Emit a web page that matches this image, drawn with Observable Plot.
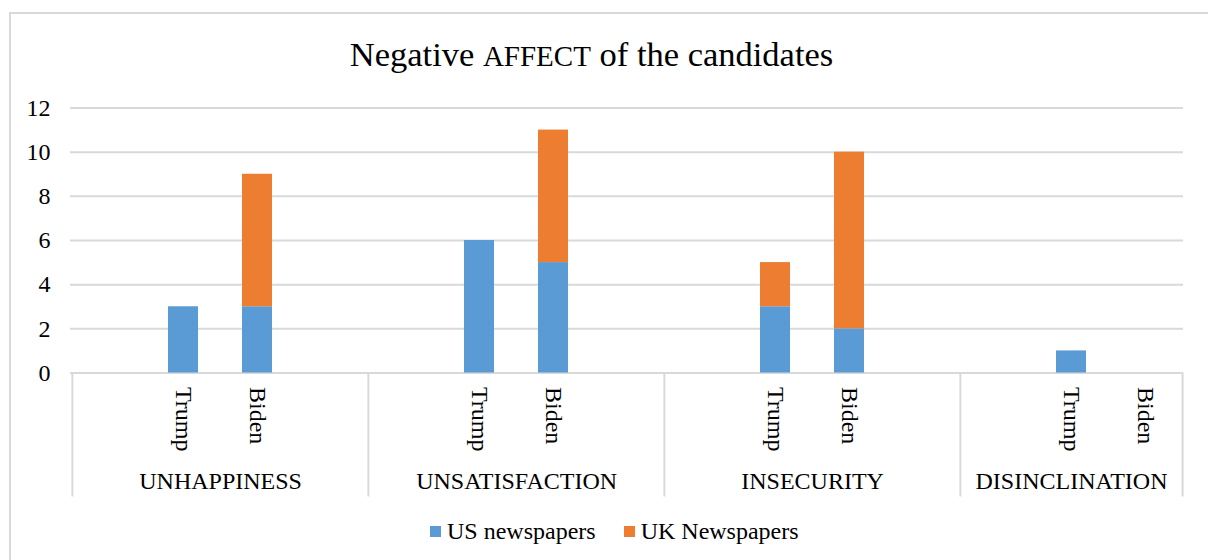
<!DOCTYPE html>
<html>
<head>
<meta charset="utf-8">
<script src="https://cdn.jsdelivr.net/npm/d3@7"></script>
<script src="https://cdn.jsdelivr.net/npm/@observablehq/plot@0.6"></script>
<style>
  body { margin: 0; background: #fff; }
  #wrap { position: relative; width: 1208px; height: 560px; overflow: hidden;
          font-family: 'Liberation Serif', 'Times New Roman', serif; color: #000; }
  #frame { position: absolute; left: 9px; top: 12px; width: 1400px; height: 800px;
           border-top: 2px solid #d9d9d9; border-left: 2px solid #d9d9d9; }
  #title { position: absolute; left: 0; width: 1183px; top: 37px; text-align: center;
           font-size: 34.5px; line-height: 35px; white-space: nowrap; }
  #title .sc { font-size: 29px; }
  #chart { position: absolute; left: 0; top: 0; }
  #chart svg, #chart svg text { font-family: 'Liberation Serif', 'Times New Roman', serif !important;
           font-variant: normal !important; }
  #legend { position: absolute; left: 430px; top: 519px; display: flex; align-items: center;
            font-size: 24px; line-height: 24px; white-space: nowrap; }
  #legend .item { display: flex; align-items: center; margin-right: 28px; }
  #legend .sw { display: inline-block; width: 11px; height: 11px; margin-right: 6px; }
</style>
</head>
<body>
<div id="wrap">
  <div id="frame"></div>
  <div id="chart"></div>
  <div id="title">Negative <span class="sc">AFFECT</span> of the candidates</div>
  <div id="legend"></div>
</div>
<script>
// ---- data ----
const groups = ["UNHAPPINESS", "UNSATISFACTION", "INSECURITY", "DISINCLINATION"];
const candidates = ["Trump", "Biden"];
const seriesNames = ["US newspapers", "UK Newspapers"];
// values in order: group1 Trump, group1 Biden, group2 Trump, ...
const usValues = [3, 3, 6, 5, 3, 2, 1, 0];
const ukValues = [0, 6, 0, 6, 2, 8, 0, 0];
const yTicks = [0, 2, 4, 6, 8, 10, 12];
const seriesColors = ["#5B9BD5", "#ED7D31"];

// ---- layout ----
const W = 1208, H = 560, mL = 70, mR = 25, mT = 107.5, mB = 187.5;
const FS = 24;

// category slots (Excel leaves an empty slot around each pair)
const slots = [];
groups.forEach((g, gi) => {
  slots.push(g + "|lead");
  candidates.forEach(c => slots.push(g + "|" + c));
  if (gi < groups.length - 1) slots.push(g + "|trail");
});
const step = (W - mL - mR) / slots.length;

const rows = [];
groups.forEach((g, gi) => candidates.forEach((c, ci) => {
  const k = gi * candidates.length + ci;
  rows.push({slot: g + "|" + c, series: seriesNames[0], value: usValues[k]});
  rows.push({slot: g + "|" + c, series: seriesNames[1], value: ukValues[k]});
}));
const labelSlots = slots.filter(s => candidates.includes(s.split("|")[1]));
const unitPx = (H - mT - mB) / 12;
const sepBottom = -(496.5 - (H - mB)) / unitPx;

const chart = Plot.plot({
  width: W, height: H,
  marginLeft: mL, marginRight: mR, marginTop: mT, marginBottom: mB,
  style: {fontFamily: "'Liberation Serif', 'Times New Roman', serif", fontSize: FS + "px",
          background: "transparent", color: "#000", overflow: "visible"},
  x: {type: "band", domain: slots, paddingInner: 0.6, paddingOuter: 0.3, align: 0.5, axis: null},
  y: {domain: [0, 12], axis: null},
  color: {domain: seriesNames, range: seriesColors},
  marks: [
    Plot.gridY(yTicks, {stroke: "#d9d9d9", strokeOpacity: 1, strokeWidth: 2}),
    Plot.barY(rows, {x: "slot", y: "value", fill: "series"}),
    Plot.ruleX(groups.map(g => g + "|lead"), {x: d => d, y1: 0, y2: sepBottom, dx: -step / 2,
      stroke: "#d9d9d9", strokeWidth: 2}),
    Plot.ruleX([slots[slots.length - 1]], {x: d => d, y1: 0, y2: sepBottom, dx: step / 2,
      stroke: "#d9d9d9", strokeWidth: 2}),
    Plot.axisY(yTicks, {anchor: "left", tickSize: 0, tickPadding: 20, fontSize: FS, label: null,
      fontFamily: "'Liberation Serif', serif"}),
    Plot.axisX(labelSlots, {anchor: "bottom", tickSize: 0, tickPadding: 14, tickRotate: 90,
      fontSize: FS, label: null, tickFormat: d => d.split("|")[1]}),
    Plot.text(groups.slice(0, 3), {x: g => g + "|" + candidates[0], text: d => d, frameAnchor: "bottom",
      dy: 116, dx: step / 2, fontSize: FS}),
    Plot.text(groups.slice(3), {x: g => g + "|" + candidates[0], text: d => d, frameAnchor: "bottom",
      dy: 116, fontSize: FS})
  ]
});
document.getElementById("chart").appendChild(chart);

const legend = document.getElementById("legend");
seriesNames.forEach((name, i) => {
  const item = document.createElement("span");
  item.className = "item";
  const sw = document.createElement("span");
  sw.className = "sw";
  sw.style.background = seriesColors[i];
  item.appendChild(sw);
  item.appendChild(document.createTextNode(name));
  legend.appendChild(item);
});
</script>
</body>
</html>
